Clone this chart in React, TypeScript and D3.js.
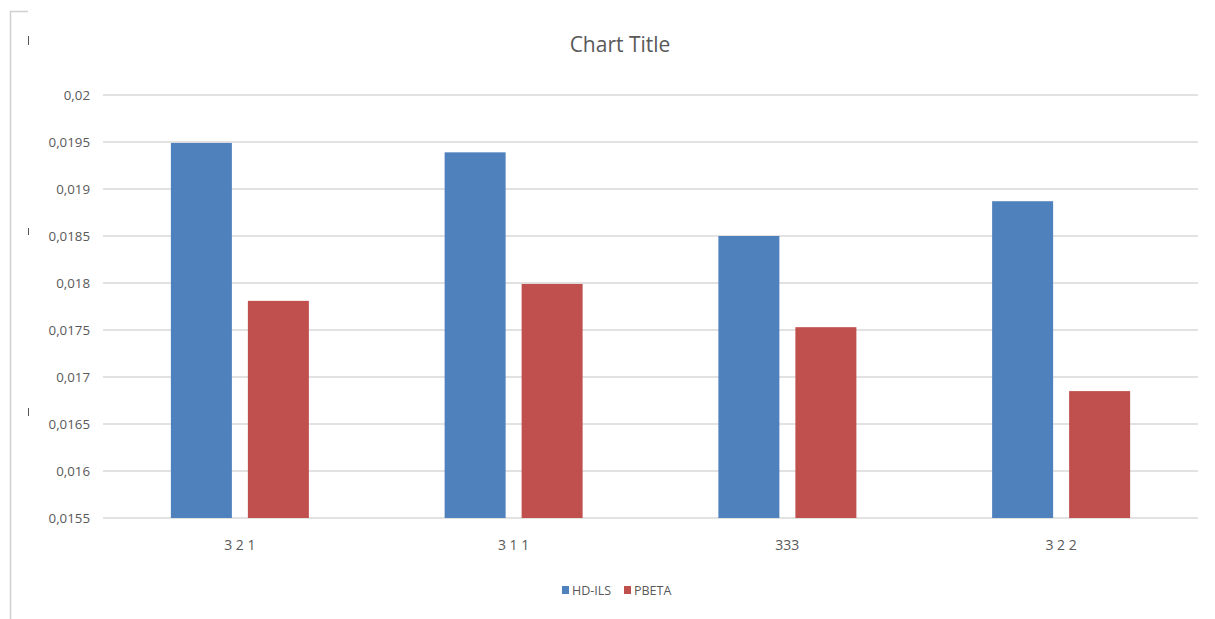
import React from "react";
import * as d3 from "d3";

const categories = ["3 2 1", "3 1 1", "333", "3 2 2"];
const seriesNames = ["HD-ILS", "PBETA"];
const hdIls = [0.01949, 0.01939, 0.0185, 0.01887];
const pbeta = [0.01781, 0.01799, 0.01753, 0.01685];
const yTicks = [0.0155, 0.016, 0.0165, 0.017, 0.0175, 0.018, 0.0185, 0.019, 0.0195, 0.02];
const colors = ["#4F81BD", "#C0504D"];

const W = 1215;
const H = 619;
const plot = { left: 103, right: 1198, top: 95, bottom: 518 };
const font = "'Open Sans', 'Liberation Sans', sans-serif";
const textColor = "#595959";

const fmt = (v: number) => String(+v.toFixed(4)).replace(".", ",");

export default function App() {
  const y = d3.scaleLinear().domain([0.0155, 0.02]).range([plot.bottom, plot.top]);
  const x0 = d3.scaleBand<string>().domain(categories).range([plot.left, plot.right]);
  const groupW = 138;
  const x1 = d3.scaleBand<string>().domain(seriesNames).range([0, groupW]).paddingInner(2 - groupW / 77);
  const series = [hdIls, pbeta];

  return (
    <svg
      width={W}
      height={H}
      style={{ position: "fixed", left: 0, top: 0, background: "#fff" }}
      fontFamily={font}
    >
      {/* chart frame */}
      <path d="M10.5,619 V11.5 H28" fill="none" stroke="#d0d0d0" strokeWidth={1.5} />
      {[[36, 45], [228, 235], [408, 416]].map(([a, b], i) => (
        <line key={i} x1={28.5} x2={28.5} y1={a} y2={b} stroke="#555" strokeWidth={1} />
      ))}

      <text x={620} y={52} textAnchor="middle" fontSize={21} fill={textColor}>
        Chart Title
      </text>

      {/* gridlines and y labels */}
      {yTicks.map((t) => (
        <g key={t}>
          <line x1={plot.left} x2={plot.right} y1={y(t)} y2={y(t)} stroke="#d9d9d9" strokeWidth={1.5} />
          <text x={90} y={y(t)} dy="0.35em" textAnchor="end" fontSize={13.3} fill={textColor}>
            {fmt(t)}
          </text>
        </g>
      ))}

      {/* bars */}
      {categories.map((c, ci) => {
        const gx = (x0(c) as number) + x0.bandwidth() / 2 - groupW / 2;
        return (
          <g key={c} transform={`translate(${gx},0)`}>
            {seriesNames.map((s, si) => (
              <rect
                key={s}
                x={x1(s) as number}
                width={x1.bandwidth()}
                y={y(series[si][ci])}
                height={plot.bottom - y(series[si][ci])}
                fill={colors[si]}
              />
            ))}
          </g>
        );
      })}

      {/* category labels */}
      {categories.map((c) => (
        <text
          key={c}
          x={(x0(c) as number) + x0.bandwidth() / 2}
          y={550}
          textAnchor="middle"
          fontSize={14}
          fill={textColor}
        >
          {c}
        </text>
      ))}

      {/* legend */}
      {seriesNames.map((s, i) => {
        const lx = [562, 624][i];
        return (
          <g key={s}>
            <rect x={lx} y={586} width={7} height={8} fill={colors[i]} />
            <text x={lx + 10} y={595} fontSize={12.5} fill={textColor}>
              {s}
            </text>
          </g>
        );
      })}
    </svg>
  );
}
